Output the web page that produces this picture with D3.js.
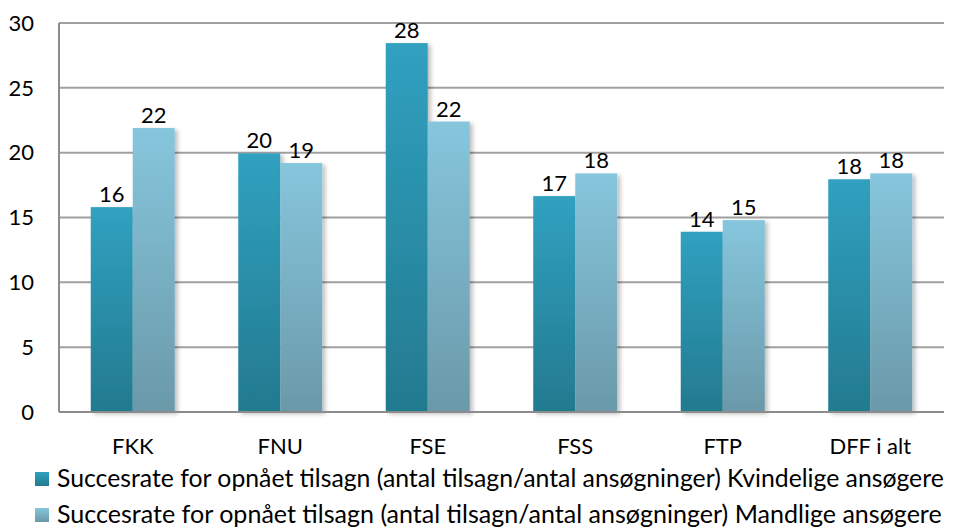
<!DOCTYPE html>
<html>
<head>
<meta charset="utf-8">
<script src="https://cdn.jsdelivr.net/npm/d3@7"></script>
<style>
  body { margin: 0; background: #fff; }
  text { font-family: Lato, "Open Sans", sans-serif; fill: #000; }
</style>
</head>
<body>
<div id="chart"></div>
<script>
var width = 954;
var height = 528;

// data
var categories = ["FKK", "FNU", "FSE", "FSS", "FTP", "DFF i alt"];
var women = [15.8, 19.95, 28.45, 16.65, 13.9, 17.95];
var men = [21.9, 19.2, 22.4, 18.4, 14.8, 18.4];
var seriesNames = [
  "Succesrate for opnået tilsagn (antal tilsagn/antal ansøgninger) Kvindelige ansøgere",
  "Succesrate for opnået tilsagn (antal tilsagn/antal ansøgninger) Mandlige ansøgere"
];
var yTicks = [0, 5, 10, 15, 20, 25, 30];

var plotL = 59, plotR = 944, plotT = 23, plotB = 412;
var fs = 22;

var svg = d3.select("#chart")
  .append("svg")
  .attr("width", width)
  .attr("height", height);

var defs = svg.append("defs");
function grad(id, c1, c2) {
  var g = defs.append("linearGradient")
    .attr("id", id)
    .attr("x1", 0).attr("y1", 0).attr("x2", 0).attr("y2", 1);
  g.append("stop").attr("offset", "0%").attr("stop-color", c1);
  g.append("stop").attr("offset", "100%").attr("stop-color", c2);
}
grad("g0", "#30a1c0", "#237a8f");
grad("g1", "#86c6dd", "#6a99a9");
var f = defs.append("filter").attr("id", "shadow")
  .attr("x", "-20%").attr("y", "-5%").attr("width", "150%").attr("height", "120%");
f.append("feDropShadow").attr("dx", 3).attr("dy", 2).attr("stdDeviation", 2)
  .attr("flood-color", "#000").attr("flood-opacity", 0.25);

var x = d3.scaleBand().domain(categories).range([plotL, plotR]);
var y = d3.scaleLinear().domain([0, 30]).range([plotB, plotT]);
var barW = 42;

// gridlines
svg.append("g").selectAll("line")
  .data(yTicks)
  .enter().append("line")
  .attr("x1", plotL).attr("x2", plotR)
  .attr("y1", d => y(d)).attr("y2", d => y(d))
  .attr("stroke", "#a0a0a0")
  .attr("stroke-width", 2);

// y axis line
svg.append("line")
  .attr("x1", plotL).attr("x2", plotL)
  .attr("y1", plotT).attr("y2", plotB)
  .attr("stroke", "#8c8c8c").attr("stroke-width", 2);

svg.append("g").selectAll("text")
  .data(yTicks)
  .enter().append("text")
  .attr("x", 34)
  .attr("y", d => y(d))
  .attr("dy", "0.35em")
  .attr("text-anchor", "end")
  .style("font-size", fs + "px")
  .text(d => d);

var series = [women, men];
series.forEach(function(vals, si) {
  var g = svg.append("g");
  g.selectAll("rect")
    .data(vals)
    .enter().append("rect")
    .attr("x", (d, i) => x(categories[i]) + x.bandwidth() / 2 - barW + si * barW)
    .attr("y", d => y(d))
    .attr("width", barW)
    .attr("height", d => y(0) - y(d))
    .attr("fill", "url(#g" + si + ")")
    .attr("filter", "url(#shadow)");
  g.selectAll("text")
    .data(vals)
    .enter().append("text")
    .attr("x", (d, i) => x(categories[i]) + x.bandwidth() / 2 - barW / 2 + si * barW)
    .attr("y", d => y(d) - 5)
    .attr("text-anchor", "middle")
    .style("font-size", fs + "px")
    .text(d => Math.round(d));
});

// x axis line on top of bars
svg.append("line")
  .attr("x1", plotL).attr("x2", plotR)
  .attr("y1", plotB).attr("y2", plotB)
  .attr("stroke", "#8c8c8c").attr("stroke-width", 2);

svg.append("g").selectAll("text")
  .data(categories)
  .enter().append("text")
  .attr("x", d => x(d) + x.bandwidth() / 2)
  .attr("y", 454)
  .attr("text-anchor", "middle")
  .style("font-size", fs + "px")
  .text(d => d);

// legend
var leg = svg.append("g").selectAll("g")
  .data(seriesNames)
  .enter().append("g")
  .attr("transform", (d, i) => "translate(35," + (472 + i * 36) + ")");
leg.append("rect")
  .attr("width", 14).attr("height", 14)
  .attr("fill", (d, i) => "url(#g" + i + ")");
leg.append("text")
  .attr("x", 22)
  .attr("y", 15)
  .style("font-size", fs + "px")
  .text(d => d)
  .each(function(d, i) {
    var target = i === 0 ? 887 : 885;
    var w = this.getComputedTextLength();
    d3.select(this).style("font-size", (fs * target / w).toFixed(2) + "px");
  });
</script>
</body>
</html>
